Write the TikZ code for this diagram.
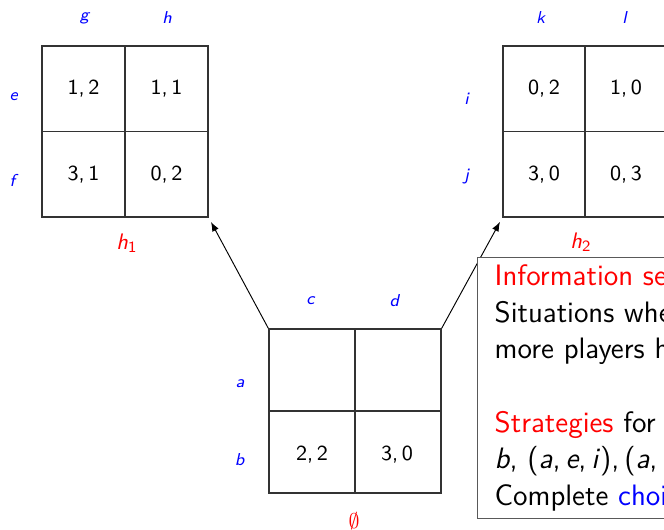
\documentclass[tikz,border=0pt]{standalone}
\usetikzlibrary{arrows.meta}
\renewcommand{\familydefault}{\sfdefault}

\def\u{0.423pt}
\newcommand{\mv}[1]{\textit{#1}}

\begin{document}
\begin{tikzpicture}[x=\u,y=\u,>={Latex[length=4pt,width=3pt]},
  grid/.style={draw=black!80,line width=0.6pt,inner sep=0pt},
  pay/.style={font=\fontsize{9.1}{11}\selectfont},
  move/.style={text=blue,font=\fontsize{7.3}{9}\selectfont},
  iset/.style={text=red,font=\fontsize{9.5}{11}\selectfont}]

% frame
\useasboundingbox (0,0) rectangle (664,530);
\clip (0,0) rectangle (664,530);

% the three games
\node[grid,minimum width=166*\u,minimum height=171*\u] (hone) at (125,398.5) {};
\node[grid,minimum width=164*\u,minimum height=171*\u] (htwo) at (585,398.5) {};
\node[grid,minimum width=172*\u,minimum height=164*\u] (root) at (355,119) {};
\foreach \g in {hone,htwo,root}
  \draw[black!80,line width=0.6pt] (\g.north) -- (\g.south) (\g.west) -- (\g.east);

% payoffs
\foreach \n/\x/\y/\v in {a/83.5/441/{1,\,2}, b/166.5/441/{1,\,1}, c/83.5/355/{3,\,1}, d/166.5/355/{0,\,2},
                         e/544/441/{0,\,2}, f/626/441/{1,\,0}, g/544/355/{3,\,0}, h/626/355/{0,\,3},
                         i/312/75/{2,\,2}, k/397/75/{3,\,0}}
  \node[pay] (pay\n) at (\x,\y) {\v};

% moves
\foreach \n/\x/\y in {g/85/512, h/167/512, e/14/433, f/14/350,
                      k/541/512, l/625/512, i/467/431, j/467/353,
                      c/311/229, d/395/229, a/240/146, b/240/70}
  \node[move] (mv\n) at (\x,\y) {\mv{\n}};

% information sets
\node[iset] (lone) at (127,287) {\mv{h}\textsubscript{1}};
\node[iset] (ltwo) at (581,288) {\mv{h}\textsubscript{2}};
\node[iset] (lroot) at (354,9) {$\emptyset$};

% arrows
\draw[->,line width=0.4pt,shorten >=2pt] (root.north west) -- (hone.south east);
\draw[->,line width=0.4pt,shorten >=2pt] (root.north east) -- (htwo.south west);

% notes
\node[draw=black!65,fill=white,line width=0.6pt,anchor=north west,minimum height=255*\u,
      text width=300pt,inner xsep=7.2pt,inner ysep=3pt,align=left,
      font=\fontsize{12.5}{15.5}\selectfont] (info) at (477,273) {%
  {\color{red}Information sets}\\
  Situations where one or\\
  more players have the same history\\[15.5pt]
  {\color{red}Strategies} for player 1:\\
  \mv{b}, (\mv{a},\,\mv{e},\,\mv{i}),\,(\mv{a},\,\mv{e},\,\mv{j}), \dots\\
  Complete {\color{blue}choice} plans};

\end{tikzpicture}
\end{document}
